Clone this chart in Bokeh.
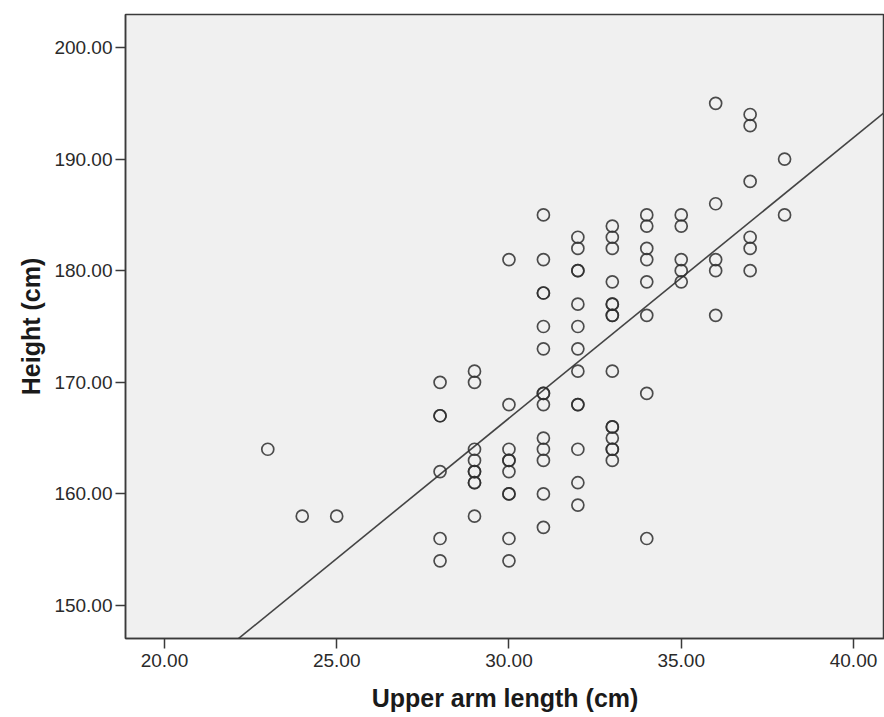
from bokeh.plotting import figure
from bokeh.models import Range1d, FixedTicker, NumeralTickFormatter
from bokeh.embed import file_html
from bokeh.resources import INLINE

# Data
upper_arm = [23, 24, 25,
             28, 28, 28, 28, 28, 28,
             29, 29, 29, 29, 29, 29, 29, 29, 29,
             30, 30, 30, 30, 30, 30, 30, 30, 30, 30,
             31, 31, 31, 31, 31, 31, 31, 31, 31, 31, 31, 31, 31, 31,
             32, 32, 32, 32, 32, 32, 32, 32, 32, 32, 32, 32, 32,
             33, 33, 33, 33, 33, 33, 33, 33, 33, 33, 33, 33, 33, 33, 33,
             34, 34, 34, 34, 34, 34, 34, 34,
             35, 35, 35, 35, 35,
             36, 36, 36, 36, 36,
             37, 37, 37, 37, 37, 37,
             38, 38]
height = [164, 158, 158,
          170, 167, 167, 162, 156, 154,
          171, 170, 164, 163, 162, 162, 161, 161, 158,
          181, 168, 164, 163, 163, 162, 160, 160, 156, 154,
          185, 181, 178, 178, 175, 173, 169, 169, 168, 165, 164, 163, 160, 157,
          183, 182, 180, 180, 177, 175, 173, 171, 168, 168, 164, 161, 159,
          184, 183, 182, 179, 177, 177, 176, 176, 171, 166, 166, 165, 164, 164, 163,
          185, 184, 182, 181, 179, 176, 169, 156,
          185, 184, 181, 180, 179,
          195, 186, 181, 180, 176,
          194, 193, 188, 183, 182, 180,
          190, 185]

# Fit line
fit_slope = 2.515
fit_intercept = 91.33

x_ticks = [20, 25, 30, 35, 40]
y_ticks = [150, 160, 170, 180, 190, 200]

x_min, x_max = 18.87, 40.90
y_min, y_max = 147.04, 202.96

FONT = "Liberation Sans"

p = figure(width=884, height=717, output_backend="svg", toolbar_location=None,
           x_range=Range1d(x_min, x_max), y_range=Range1d(y_min, y_max),
           min_border_left=125, min_border_right=0, min_border_top=14,
           min_border_bottom=79)
p.background_fill_color = "#f0f0f0"
p.border_fill_color = "white"
p.outline_line_color = "#3a3a3a"
p.outline_line_width = 1.5
p.xgrid.visible = False
p.ygrid.visible = False

fit_x = [x_min, x_max]
fit_y = [fit_intercept + fit_slope * v for v in fit_x]
p.line(fit_x, fit_y, line_color="#444444", line_width=1.6)

p.scatter(upper_arm, height, marker="circle", size=12, fill_color=None,
          line_color="#2e2e2e", line_width=1.7, line_alpha=0.85)

for ax in (p.xaxis, p.yaxis):
    ax.axis_line_color = "#3a3a3a"
    ax.axis_line_width = 1.5
    ax.major_tick_line_color = "#3a3a3a"
    ax.major_tick_line_width = 1.5
    ax.major_tick_out = 10
    ax.major_tick_in = 0
    ax.minor_tick_line_color = None
    ax.major_label_text_font = FONT
    ax.major_label_text_font_size = "19px"
    ax.major_label_text_color = "#2a2a2a"
    ax.axis_label_text_font = FONT
    ax.axis_label_text_font_style = "bold"
    ax.axis_label_text_font_size = "25px"
    ax.axis_label_text_color = "#1a1a1a"
    ax.formatter = NumeralTickFormatter(format="0.00")

p.xaxis.ticker = FixedTicker(ticks=x_ticks)
p.yaxis.ticker = FixedTicker(ticks=y_ticks)
p.xaxis.axis_label = "Upper arm length (cm)"
p.yaxis.axis_label = "Height (cm)"
p.xaxis.major_label_standoff = 5
p.yaxis.major_label_standoff = 3
p.xaxis.axis_label_standoff = 14
p.yaxis.axis_label_standoff = 6

open("out.html", "w").write(file_html(p, INLINE))
